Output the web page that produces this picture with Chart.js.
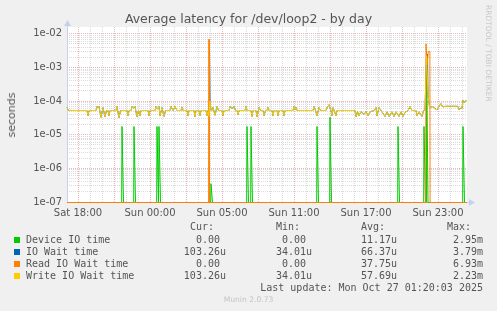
<!DOCTYPE html>
<html>
<head>
<meta charset="utf-8">
<title>Average latency for /dev/loop2 - by day</title>
<script src="https://cdn.jsdelivr.net/npm/chart.js@4/dist/chart.umd.min.js"></script>
<style>
  html, body { margin: 0; padding: 0; background: #F0F0F0; }
  #wrap { position: relative; width: 497px; height: 311px; overflow: hidden;
          font-family: 'DejaVu Sans', sans-serif; color: #555; }
  #chart { position: absolute; left: 0; top: 0; }
  .t { position: absolute; white-space: pre; line-height: 12px; }
  .mono { font-family: 'DejaVu Sans Mono', monospace; font-size: 10px; }
  .r { text-align: right; }
  .sq { position: absolute; width: 6px; height: 6px; }
  #title { left: 0; width: 497px; top: 13px; text-align: center; font-size: 12.5px; }
  #ylab { left: 12px; top: 115px; font-size: 11px; transform: translate(-50%, -50%) rotate(-90deg); }
  #rrd { left: 484px; top: 5px; font-size: 7.5px; color: #c8c8c8; writing-mode: vertical-rl; line-height: 8px; }
  #munin { left: 0; width: 497px; top: 294px; text-align: center; font-size: 7.6px; color: #c4c4c4; }
</style>
</head>
<body>
<div id="wrap">
  <canvas id="chart" width="497" height="311"></canvas>
  <div class="t" id="title">Average latency for /dev/loop2 - by day</div>
  <div class="t" id="ylab">seconds</div>
  <div class="t" id="rrd">RRDTOOL / TOBI OETIKER</div>
  <div id="legend"></div>
  <div class="t" id="munin">Munin 2.0.73</div>
</div>
<script>
// ── Munin "diskstats latency" by day: 400 samples de 5 min ──

// Ticks
const xLabelSteps = [11, 83, 155, 227, 299, 371];
const xLabelTexts = ['Sat 18:00', 'Sun 00:00', 'Sun 05:00', 'Sun 11:00', 'Sun 17:00', 'Sun 23:00'];
const yDecades = [1e-7, 1e-6, 1e-5, 1e-4, 1e-3, 1e-2];
const yDecadeLabels = ['1e-07', '1e-06', '1e-05', '1e-04', '1e-03', '1e-02'];
const Y_MIN = 1e-7;
const Y_MAX = 1.6e-2;
// valeur nulle -> dernière ligne de pixels (comme rrdtool)
const ZERO_FLOOR = 0.966e-7;

// Device IO time: spikes, zero elsewhere
const deviceSpikeX = [55, 67, 90, 92, 144, 180, 184, 250, 263, 331, 357, 359.5, 396];
const deviceSpikeY = [1.76e-5, 1.76e-5, 1.76e-5, 1.76e-5, 3.5e-7, 1.76e-5, 1.76e-5, 1.76e-5, 3.3e-5, 1.76e-5, 1.76e-5, 2.95e-3, 1.76e-5];

// Read IO wait time
const readX = [0, 141.7, 142, 142.3, 358.7, 359, 360, 361.3, 362.9, 363.1, 400];
const readY = [0, 0, 6.93e-3, 0, 0, 5.0e-3, 1.2e-3, 3.0e-3, 3.0e-3, 0, 0];

// Write IO wait time
const writeX = [
  0, 1.5, 20, 21, 22, 29, 30, 31, 32, 34, 36, 38, 39.5, 41, 42, 43, 49, 50, 52, 53.5,
  60, 61, 62, 64, 65, 66.5, 68, 70, 71.5, 73, 74, 81, 82, 83, 88, 89, 90.5, 92, 93, 95,
  97, 98.5, 103, 104, 106, 108, 110, 114, 115, 116, 120, 121, 122, 127, 128, 129, 132, 133, 134, 139,
  140, 141, 142, 143, 144, 145, 146, 148, 150, 151.5, 155, 156, 157, 162, 163, 165, 167, 168.5, 170, 171,
  172, 178, 179, 180, 184, 185, 186, 189, 190, 192, 193.5, 196, 197, 198.5, 200, 201, 202, 205, 206, 207,
  210, 211, 212, 216, 217, 218, 226, 227, 228, 229, 230, 246, 247, 248.5, 250, 252, 253.5, 259, 260, 262,
  264, 265, 266, 269, 270, 288, 289, 290.5, 292, 294, 297, 299, 301, 303, 307, 309, 310, 312, 314, 318,
  320, 322, 325, 327, 329, 332, 334, 336, 338, 341, 343, 345, 349, 350, 352, 355, 356.5, 358, 359.5, 361,
  362.5, 364, 366, 368, 370, 372, 374, 376, 378, 391, 392, 394, 395, 396, 397.5, 399, 400
];
const writeY = [
  6.5e-5, 5.25e-5, 5.25e-5, 3.7e-5, 5.25e-5, 5.25e-5, 6.9e-5, 6.3e-5, 6.9e-5, 3.3e-5, 6.4e-5, 3.4e-5, 5.25e-5, 5.25e-5, 3.7e-5, 5.25e-5, 5.25e-5, 6.9e-5, 3.2e-5, 5.25e-5,
  5.25e-5, 3.7e-5, 5.25e-5, 5.25e-5, 6.9e-5, 6.0e-5, 6.9e-5, 3.4e-5, 5.25e-5, 3.7e-5, 5.25e-5, 5.25e-5, 3.7e-5, 5.25e-5, 5.25e-5, 6.9e-5, 5.8e-5, 6.9e-5, 3.7e-5, 6.4e-5,
  3.5e-5, 5.25e-5, 5.25e-5, 6.9e-5, 5.25e-5, 6.9e-5, 5.25e-5, 5.25e-5, 6.7e-5, 5.25e-5, 5.25e-5, 3.7e-5, 5.25e-5, 5.25e-5, 3.4e-5, 5.25e-5, 5.25e-5, 3.7e-5, 5.25e-5, 5.25e-5,
  3.7e-5, 5.25e-5, 3.5e-5, 1.0e-4, 5.25e-5, 5.25e-5, 6.5e-5, 3.8e-5, 6.9e-5, 5.25e-5, 5.25e-5, 3.7e-5, 5.25e-5, 5.25e-5, 6.9e-5, 6.0e-5, 6.9e-5, 5.25e-5, 5.25e-5, 4.0e-5,
  5.25e-5, 5.25e-5, 6.9e-5, 5.25e-5, 5.25e-5, 3.5e-5, 5.25e-5, 5.25e-5, 3.4e-5, 6.5e-5, 5.25e-5, 5.25e-5, 3.7e-5, 5.25e-5, 5.25e-5, 6.5e-5, 5.25e-5, 5.25e-5, 3.7e-5, 5.25e-5,
  5.25e-5, 3.7e-5, 5.25e-5, 5.25e-5, 3.7e-5, 5.25e-5, 5.25e-5, 6.9e-5, 5.5e-5, 6.5e-5, 5.25e-5, 5.25e-5, 6.9e-5, 5.25e-5, 3.7e-5, 6.4e-5, 5.25e-5, 5.25e-5, 6.4e-5, 7.8e-5,
  5.25e-5, 3.7e-5, 6.4e-5, 3.7e-5, 5.25e-5, 5.25e-5, 3.4e-5, 4.9e-5, 3.7e-5, 4.9e-5, 4.0e-5, 4.9e-5, 3.7e-5, 4.8e-5, 5.25e-5, 6.4e-5, 3.7e-5, 6.4e-5, 5.25e-5, 3.5e-5,
  4.8e-5, 3.5e-5, 4.8e-5, 3.5e-5, 4.8e-5, 3.5e-5, 4.8e-5, 3.5e-5, 4.6e-5, 5.25e-5, 6.9e-5, 5.25e-5, 5.25e-5, 3.7e-5, 4.8e-5, 3.5e-5, 5.25e-5, 5.5e-5, 2.23e-3, 1.5e-4,
  6.7e-5, 6.7e-5, 6.9e-5, 6.0e-5, 5.5e-5, 7.0e-5, 8.4e-5, 6.7e-5, 7.0e-5, 7.0e-5, 5.5e-5, 6.4e-5, 6.0e-5, 1.05e-4, 9.2e-5, 1.05e-4, 1.02e-4
];

// IO Wait time: follows write, plus its own peaks
const ioWaitSpikeX = [142.5, 360.5];
const ioWaitSpikeY = [3.79e-3, 2.5e-3];

// Legend table
const seriesNames = ['Device IO time', 'IO Wait time', 'Read IO Wait time', 'Write IO Wait time'];
const seriesColors = ['#00CC00', '#0066B3', '#FF8000', '#FFCC00'];
const curVals = ['0.00 ', '103.26u', '0.00 ', '103.26u'];
const minVals = ['0.00 ', '34.01u', '0.00 ', '34.01u'];
const avgVals = ['11.17u', '66.37u', '37.75u', '57.69u'];
const maxVals = ['2.95m', '3.79m', '6.93m', '2.23m'];
const lastUpdate = 'Last update: Mon Oct 27 01:20:03 2025';

const floorLog = (v) => (v > 0 ? v : ZERO_FLOOR);

function pts(xs, ys) {
  return xs.map((x, i) => ({ x, y: floorLog(ys[i]) }));
}
function spikes(xs, ys) {
  const out = [{ x: 0, y: ZERO_FLOOR }];
  xs.forEach((x, i) => {
    out.push({ x: x - 0.3, y: ZERO_FLOOR }, { x, y: ys[i] }, { x: x + 1.5, y: ZERO_FLOOR });
  });
  out.push({ x: 400, y: ZERO_FLOOR });
  return out;
}

const writePts = pts(writeX, writeY);
const ioWaitPts = writePts.concat(pts(ioWaitSpikeX, ioWaitSpikeY)).sort((a, b) => a.x - b.x);

const GRID_MINOR = 'rgba(160,160,160,0.38)';
const GRID_MAJOR = 'rgba(215,90,90,0.45)';

const plotDeco = {
  id: 'plotDeco',
  beforeDraw(chart) {
    const { ctx, chartArea: a } = chart;
    ctx.save();
    ctx.fillStyle = '#FFFFFF';
    ctx.fillRect(a.left, a.top, a.right - a.left, a.bottom - a.top);
    ctx.restore();
  },
  beforeDatasetsDraw(chart) {
    const { ctx, chartArea: a } = chart;
    ctx.save();
    ctx.strokeStyle = '#C8D0F0';
    ctx.fillStyle = '#C8D0F0';
    ctx.lineWidth = 1;
    ctx.beginPath();
    ctx.moveTo(a.left + 0.5, a.bottom);
    ctx.lineTo(a.left + 0.5, a.top - 4);
    ctx.moveTo(a.right, a.bottom + 0.5);
    ctx.lineTo(a.right + 4, a.bottom + 0.5);
    ctx.stroke();
    ctx.beginPath();
    ctx.moveTo(a.left - 3, a.top - 1);
    ctx.lineTo(a.left + 4, a.top - 1);
    ctx.lineTo(a.left + 0.5, a.top - 7);
    ctx.closePath();
    ctx.fill();
    ctx.beginPath();
    ctx.moveTo(a.right + 2, a.bottom - 3);
    ctx.lineTo(a.right + 2, a.bottom + 4);
    ctx.lineTo(a.right + 8, a.bottom + 0.5);
    ctx.closePath();
    ctx.fill();
    ctx.restore();
  }
};

const lineDs = (label, data, color, order) => ({
  label, data, order,
  borderColor: color,
  borderWidth: 1,
  pointRadius: 0,
  tension: 0,
  fill: false,
  clip: false
});

const gridOpts = {
  drawTicks: false,
  color: (c) => (c.tick && c.tick.major ? GRID_MAJOR : GRID_MINOR)
};

new Chart(document.getElementById('chart'), {
  type: 'line',
  data: {
    datasets: [
      lineDs(seriesNames[3], writePts, seriesColors[3], 0),
      lineDs(seriesNames[2], pts(readX, readY), seriesColors[2], 1),
      lineDs(seriesNames[1], ioWaitPts, seriesColors[1], 2),
      lineDs(seriesNames[0], spikes(deviceSpikeX, deviceSpikeY), seriesColors[0], 3)
    ]
  },
  options: {
    responsive: false,
    animation: false,
    events: [],
    layout: { padding: { left: 0, right: 30, top: 27, bottom: 87 } },
    plugins: { legend: { display: false }, title: { display: false }, tooltip: { enabled: false } },
    scales: {
      x: {
        type: 'linear',
        min: 0, max: 400,
        afterFit: (s) => { s.height = 22; },
        afterBuildTicks: (s) => {
          const t = [];
          for (let v = 11; v <= 400; v += 12) t.push({ value: v, major: ((v - 11) / 12) % 3 === 0 });
          s.ticks = t;
        },
        ticks: {
          autoSkip: false, maxRotation: 0, padding: 5,
          color: '#555', font: { family: 'DejaVu Sans', size: 10 },
          callback: (v) => {
            const i = xLabelSteps.indexOf(Math.round(v));
            return i >= 0 ? xLabelTexts[i] : '';
          }
        },
        grid: gridOpts,
        border: { display: false, dash: [1, 1] }
      },
      y: {
        type: 'logarithmic',
        min: Y_MIN, max: Y_MAX,
        afterFit: (s) => { s.width = 67; },
        afterBuildTicks: (s) => {
          const t = [];
          yDecades.forEach((d, di) => {
            for (let m = 1; m <= 9; m++) {
              const v = d * m;
              if (v > s.max * 1.0001) break;
              t.push({ value: v, major: m === 1, label: m === 1 ? yDecadeLabels[di] : '' });
            }
          });
          s.ticks = t;
        },
        ticks: {
          autoSkip: false, padding: 5,
          color: '#555', font: { family: 'DejaVu Sans', size: 10 },
          callback: (v, i, ticks) => ticks[i].label
        },
        grid: gridOpts,
        border: { display: false, dash: [1, 1] }
      }
    }
  },
  plugins: [plotDeco]
});

// Legend table (munin style)
const legend = document.getElementById('legend');
function addText(txt, left, top, cls, right) {
  const d = document.createElement('div');
  d.className = 't mono' + (cls ? ' ' + cls : '');
  d.textContent = txt;
  if (right != null) { d.style.right = (497 - right) + 'px'; d.classList.add('r'); }
  else d.style.left = left + 'px';
  d.style.top = top + 'px';
  legend.appendChild(d);
}
const colRight = [226, 312, 397, 483];
['Cur:', 'Min:', 'Avg:', 'Max:'].forEach((h, i) => addText(h + '  ', 0, 221, '', colRight[i]));
seriesNames.forEach((name, i) => {
  const top = 233.5 + i * 12;
  const sq = document.createElement('div');
  sq.className = 'sq';
  sq.style.left = '14px';
  sq.style.top = (top + 3) + 'px';
  sq.style.background = seriesColors[i];
  legend.appendChild(sq);
  addText(name, 26, top);
  addText(curVals[i], 0, top, '', colRight[0]);
  addText(minVals[i], 0, top, '', colRight[1]);
  addText(avgVals[i], 0, top, '', colRight[2]);
  addText(maxVals[i], 0, top, '', colRight[3]);
});
addText(lastUpdate, 0, 281.5, '', 483);
</script>
</body>
</html>
